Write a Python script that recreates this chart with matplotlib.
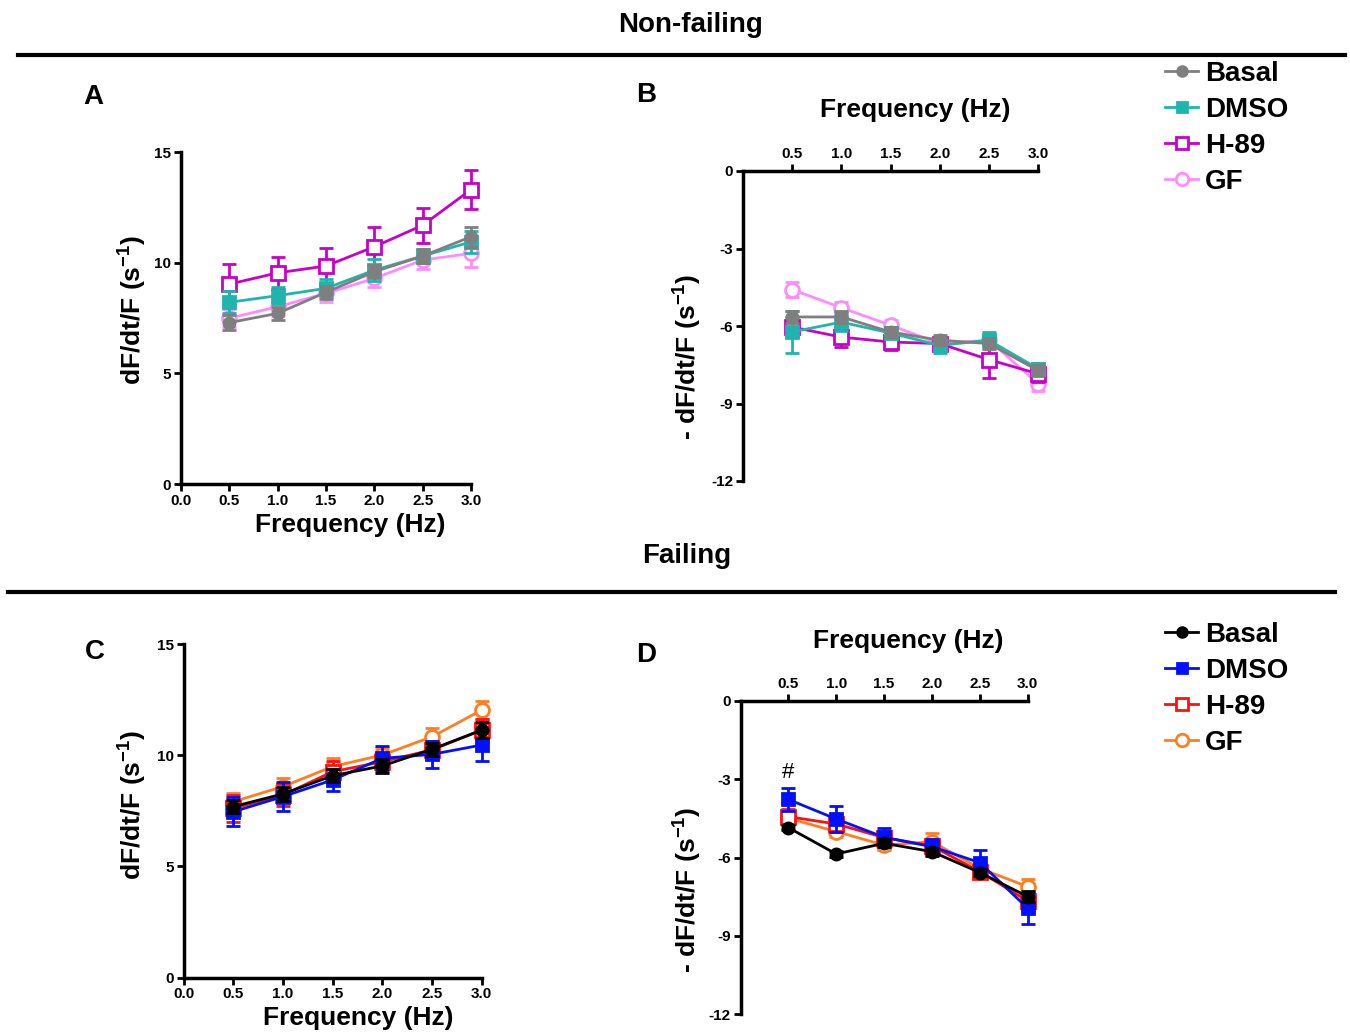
import numpy as np
import matplotlib
matplotlib.use('Agg')
import matplotlib.pyplot as plt
from matplotlib.lines import Line2D

plt.rcParams['font.family'] = ['Liberation Sans', 'DejaVu Sans']
plt.rcParams['font.weight'] = 'bold'
plt.rcParams['axes.unicode_minus'] = False
plt.rcParams['mathtext.fontset'] = 'custom'
plt.rcParams['mathtext.rm'] = 'Liberation Sans:bold'
plt.rcParams['mathtext.it'] = 'Liberation Sans:bold'
plt.rcParams['mathtext.bf'] = 'Liberation Sans:bold'

# %% Data
freq = [0.5, 1.0, 1.5, 2.0, 2.5, 3.0]
groups = ['Basal', 'DMSO', 'H-89', 'GF']

# Non-failing, +dF/dt/F (panel A)
a_basal = [7.29, 7.71, 8.66, 9.59, 10.30, 11.17]
a_basal_err = [0.35, 0.3, 0.3, 0.3, 0.3, 0.45]
a_dmso = [8.21, 8.51, 8.84, 9.66, 10.30, 10.94]
a_dmso_err = [0.5, 0.4, 0.4, 0.5, 0.3, 0.5]
a_h89 = [9.03, 9.54, 9.85, 10.72, 11.69, 13.30]
a_h89_err = [0.93, 0.72, 0.8, 0.9, 0.78, 0.87]
a_gf = [7.49, 8.01, 8.61, 9.29, 10.12, 10.42]
a_gf_err = [0.4, 0.4, 0.4, 0.4, 0.4, 0.6]

# Non-failing, -dF/dt/F (panel B)
b_basal = [-5.65, -5.65, -6.23, -6.55, -6.68, -7.72]
b_basal_err = [0.25, 0.25, 0.2, 0.2, 0.2, 0.2]
b_dmso = [-6.23, -5.85, -6.27, -6.75, -6.55, -7.65]
b_dmso_err = [0.8, 0.35, 0.2, 0.3, 0.3, 0.2]
b_h89 = [-6.04, -6.43, -6.62, -6.68, -7.30, -7.85]
b_h89_err = [0.4, 0.4, 0.3, 0.2, 0.7, 0.3]
b_gf = [-4.59, -5.29, -5.97, -6.68, -6.55, -8.23]
b_gf_err = [0.3, 0.2, 0.2, 0.2, 0.2, 0.3]

# Failing, +dF/dt/F (panel C)
c_basal = [7.69, 8.26, 9.08, 9.52, 10.27, 11.13]
c_basal_err = [0.3, 0.3, 0.3, 0.3, 0.3, 0.35]
c_dmso = [7.46, 8.14, 8.89, 9.86, 10.04, 10.46]
c_dmso_err = [0.65, 0.65, 0.5, 0.55, 0.6, 0.7]
c_h89 = [7.61, 8.21, 9.26, 9.71, 10.24, 11.13]
c_h89_err = [0.6, 0.5, 0.5, 0.35, 0.4, 0.5]
c_gf = [7.91, 8.59, 9.49, 10.01, 10.83, 12.03]
c_gf_err = [0.4, 0.4, 0.4, 0.3, 0.4, 0.4]

# Failing, -dF/dt/F (panel D)
d_basal = [-4.85, -5.86, -5.45, -5.77, -6.57, -7.49]
d_basal_err = [0.1, 0.1, 0.15, 0.15, 0.15, 0.2]
d_dmso = [-3.77, -4.52, -5.22, -5.58, -6.19, -7.94]
d_dmso_err = [0.45, 0.5, 0.35, 0.3, 0.5, 0.6]
d_h89 = [-4.43, -4.71, -5.23, -5.55, -6.54, -7.66]
d_h89_err = [0.3, 0.3, 0.2, 0.2, 0.2, 0.25]
d_gf = [-4.49, -5.00, -5.52, -5.39, -6.41, -7.11]
d_gf_err = [0.2, 0.2, 0.2, 0.35, 0.2, 0.3]

colors_nf = ['#7f7f7f', '#1fb5ad', '#c800c8', '#ff8cff']
colors_f = ['#000000', '#0010ff', '#ff1010', '#ff7f20']
markers = ['o', 's', 's', 'o']
filled = [True, True, False, False]
msizes = [8, 8, 10, 10]

W, H = 1350, 1034
def fx(x): return x / W
def fy(y): return 1 - y / H

fig = plt.figure(figsize=(13.5, 10.34), dpi=100)

def make_ax(l, t, r, b):
    return fig.add_axes([fx(l), fy(b), fx(r - l), (b - t) / H])

axA = make_ax(181, 152, 471, 484)
axB = make_ax(743, 171, 1038, 481)
axC = make_ax(183.5, 644, 481.7, 977.7)
axD = make_ax(740.5, 701, 1027.7, 1014.3)

def draw(ax, vals, errs, colors):
    order = [3, 2, 1, 0]    # basal on top
    for i in order:
        mfc = colors[i] if filled[i] else 'white'
        ax.errorbar(freq, vals[i], yerr=errs[i], color=colors[i], marker=markers[i],
                    ms=msizes[i], mfc=mfc, mec=colors[i], mew=2, lw=2,
                    elinewidth=2, capsize=5, capthick=2, clip_on=False, zorder=3 + (3 - i))

def style_pos(ax):
    ax.set_xlim(0, 3)
    ax.set_ylim(0, 15)
    ax.set_xticks([0.0, 0.5, 1.0, 1.5, 2.0, 2.5, 3.0])
    ax.set_xticklabels(['0.0', '0.5', '1.0', '1.5', '2.0', '2.5', '3.0'])
    ax.set_yticks([0, 5, 10, 15])
    ax.spines['top'].set_visible(False)
    ax.spines['right'].set_visible(False)
    for s in ['left', 'bottom']:
        ax.spines[s].set_linewidth(2.5)
    ax.tick_params(width=2, length=5, labelsize=11, pad=2)

def style_neg(ax):
    ax.set_xlim(0, 3)
    ax.set_ylim(-12, 0)
    ax.xaxis.tick_top()
    ax.set_xticks([0.5, 1.0, 1.5, 2.0, 2.5, 3.0])
    ax.set_xticklabels(['0.5', '1.0', '1.5', '2.0', '2.5', '3.0'])
    ax.set_yticks([0, -3, -6, -9, -12])
    ax.spines['bottom'].set_visible(False)
    ax.spines['right'].set_visible(False)
    for s in ['left', 'top']:
        ax.spines[s].set_linewidth(2.5)
    ax.tick_params(width=2, length=5, labelsize=11, pad=2)

draw(axA, [a_basal, a_dmso, a_h89, a_gf], [a_basal_err, a_dmso_err, a_h89_err, a_gf_err], colors_nf)
draw(axB, [b_basal, b_dmso, b_h89, b_gf], [b_basal_err, b_dmso_err, b_h89_err, b_gf_err], colors_nf)
draw(axC, [c_basal, c_dmso, c_h89, c_gf], [c_basal_err, c_dmso_err, c_h89_err, c_gf_err], colors_f)
draw(axD, [d_basal, d_dmso, d_h89, d_gf], [d_basal_err, d_dmso_err, d_h89_err, d_gf_err], colors_f)
style_pos(axA); style_pos(axC)
style_neg(axB); style_neg(axD)

axD.text(0.5, -2.75, '#', ha='center', va='center', fontsize=16, fontweight='normal')

# %% Titles, labels, separators
fig.text(fx(690), fy(25), 'Non-failing', ha='center', va='center', fontsize=20)
fig.text(fx(687), fy(556), 'Failing', ha='center', va='center', fontsize=20)
fig.add_artist(Line2D([fx(18), fx(1345)], [fy(55), fy(55)], color='black', lw=3))
fig.add_artist(Line2D([fx(8), fx(1335)], [fy(592), fy(592)], color='black', lw=3))

for lab, x, y in [('A', 93, 97), ('B', 646, 95), ('C', 95, 652), ('D', 646, 655)]:
    fig.text(fx(x), fy(y), lab, ha='center', va='center', fontsize=20)

ylab = 'dF/dt/F (s$^{-1}$)'
fig.text(fx(133), fy(310), ylab, rotation=90, ha='center', va='center', fontsize=19)
fig.text(fx(133), fy(805), ylab, rotation=90, ha='center', va='center', fontsize=19)
fig.text(fx(688), fy(357), '- ' + ylab, rotation=90, ha='center', va='center', fontsize=19)
fig.text(fx(688), fy(890), '- ' + ylab, rotation=90, ha='center', va='center', fontsize=19)
for x, y in [(350, 525), (915, 110), (358, 1018), (908, 641)]:
    fig.text(fx(x), fy(y), 'Frequency (Hz)', ha='center', va='center', fontsize=19)

# %% Legends
def legend(colors, top):
    handles = []
    for i in range(4):
        mfc = colors[i] if filled[i] else 'white'
        handles.append(Line2D([], [], color=colors[i], marker=markers[i], ms=msizes[i] - 1,
                              mfc=mfc, mec=colors[i], mew=2, lw=2))
    fig.legend(handles, groups, loc='upper left', bbox_to_anchor=(fx(1165), fy(top)),
               frameon=False, prop={'size': 20, 'weight': 'bold'}, handlelength=1.2,
               handletextpad=0.25, labelspacing=0.36, borderpad=0, borderaxespad=0)

legend(colors_nf, 61)
legend(colors_f, 622)

fig.savefig('out.png', dpi=100)
